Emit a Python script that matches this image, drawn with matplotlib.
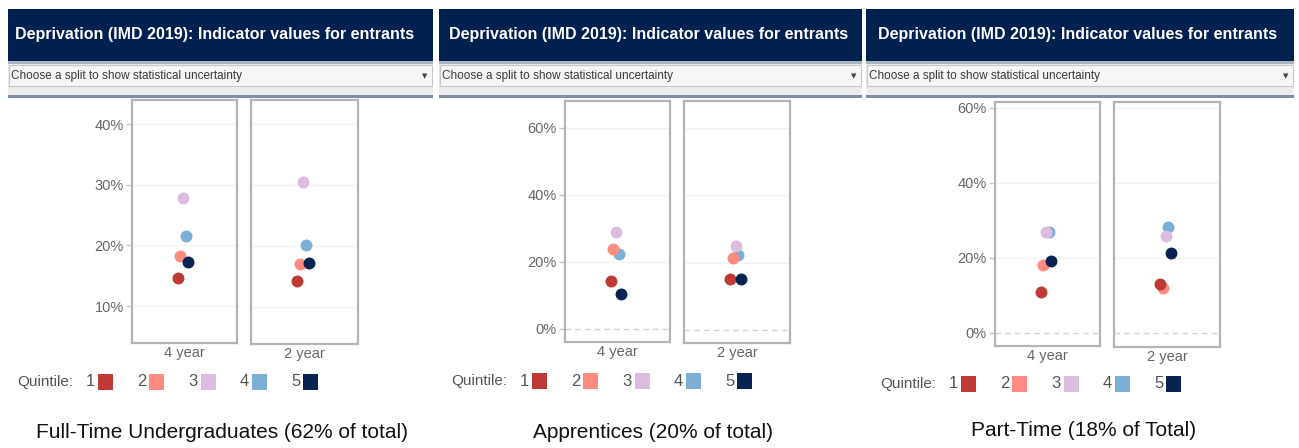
import matplotlib
matplotlib.use('Agg')
import matplotlib.pyplot as plt
from matplotlib.patches import Rectangle

plt.rcParams['font.family'] = ['Liberation Sans', 'DejaVu Sans']

# data (percent of entrants by IMD quintile)
groups = ['4 year', '2 year']
quintiles = ['1', '2', '3', '4', '5']
q_colors = ['#bf3a35', '#ff8a80', '#dcbde0', '#7bafd6', '#0a2452']

ft_4yr = [14.6, 18.3, 27.8, 21.6, 17.2]
ft_2yr = [14.2, 17.0, 30.6, 20.2, 17.2]
app_4yr = [14.2, 23.7, 29.0, 22.5, 10.5]
app_2yr = [15.2, 21.3, 25.0, 22.3, 15.2]
pt_4yr = [10.7, 17.9, 26.8, 26.8, 19.2]
pt_2yr = [13.2, 12.2, 25.8, 28.3, 21.3]

captions = ['Full-Time Undergraduates (62% of total)',
            'Apprentices (20% of total)',
            'Part-Time (18% of Total)']
title = 'Deprivation (IMD 2019): Indicator values for entrants'
dropdown = 'Choose a split to show statistical uncertainty'

panel_data = [(ft_4yr, ft_2yr), (app_4yr, app_2yr), (pt_4yr, pt_2yr)]
panel_ticks = [[10, 20, 30, 40], [0, 20, 40, 60], [0, 20, 40, 60]]
panel_ylim = [(3.9, 44.0), (-3.9, 68.0), (-3.6, 61.5)]

# layout in pixels
W, H = 1299, 448
headers = [(8, 433, 15), (439, 862, 449), (866, 1294, 878)]
boxes = [[(132, 100, 237, 343), (251, 100, 358, 344)],
         [(565, 101, 670, 342), (684, 101, 790, 343)],
         [(995, 102, 1100, 346), (1114, 102, 1220, 347)]]
legend_pos = [(17, 382), (451, 381), (880, 384)]
caption_pos = [(222, 433), (653, 433), (1084, 430)]

draw_order = [3, 2, 1, 0, 4]


def px_rect(x0, y0, x1, y1):
    return [x0 / W, 1 - y1 / H, (x1 - x0) / W, (y1 - y0) / H]


fig = plt.figure(figsize=(W / 100, H / 100), dpi=100)

ov = fig.add_axes([0, 0, 1, 1])
ov.set_xlim(0, W)
ov.set_ylim(H, 0)
ov.axis('off')

for p in range(3):
    x0, x1, tx = headers[p]
    w = x1 - x0
    # header band + dropdown
    ov.add_patch(Rectangle((x0, 9), w, 52, fc='#002050', ec='none'))
    ov.text(tx, 35, title, color='white', fontsize=11.5, fontweight='bold', va='center', ha='left')
    ov.add_patch(Rectangle((x0, 61), w, 3, fc='#aab4c2', ec='none'))
    ov.add_patch(Rectangle((x0, 64), w, 31, fc='#ebebeb', ec='none'))
    ov.add_patch(Rectangle((x0 + 1, 65), w - 2, 21, fc='#f6f6f6', ec='#c8c8c8', lw=0.8))
    ov.text(x0 + 3, 76, dropdown, color='#3a3a3a', fontsize=8.5, va='center', ha='left')
    ov.text(x1 - 8, 76, '\u25bc', color='#444444', fontsize=5, va='center', ha='center',
            family=['DejaVu Sans'])
    ov.add_patch(Rectangle((x0, 95), w, 3, fc='#7f8ea6', ec='none'))

    # legend
    lx, ly = legend_pos[p]
    ov.text(lx, ly, 'Quintile:', color='#555555', fontsize=11, va='center', ha='left')
    for i, q in enumerate(quintiles):
        sx = lx + 81 + i * 51.3
        ov.add_patch(Rectangle((sx, ly - 8), 15, 16, fc=q_colors[i], ec='none'))
        ov.text(sx - 3, ly, q, color='#555555', fontsize=12, va='center', ha='right')

    # caption
    cx, cy = caption_pos[p]
    ov.text(cx, cy, captions[p], color='#111111', fontsize=15, va='center', ha='center')

    # two small multiples
    for g in range(2):
        ax = fig.add_axes(px_rect(*boxes[p][g]))
        vals = panel_data[p][g]
        for i in draw_order:
            xpos = (i - 2) * 0.026 - 0.014
            ax.plot(xpos, vals[i], 'o', color=q_colors[i], markersize=8.6,
                    markeredgewidth=0, zorder=3)
        ax.set_xlim(-0.5, 0.5)
        ax.set_ylim(*panel_ylim[p])
        for t in panel_ticks[p]:
            if t == 0:
                ax.axhline(0, color='#d4d4d4', lw=1, ls=(0, (4, 3)), zorder=1)
            else:
                ax.axhline(t, color='#f3f3f3', lw=1, zorder=1)
        ax.set_yticks(panel_ticks[p])
        if g == 0:
            ax.set_yticklabels(['%d%%' % t for t in panel_ticks[p]])
            ax.tick_params(axis='y', length=4, width=1, color='#c8c8c8', pad=2,
                           labelsize=10.5, labelcolor='#666666')
        else:
            ax.tick_params(axis='y', length=0, labelleft=False)
        ax.set_xticks([0])
        ax.set_xticklabels([groups[g]])
        ax.tick_params(axis='x', length=0, pad=2, labelsize=10.5, labelcolor='#666666')
        for s in ax.spines.values():
            s.set_color('#b4b4b4')
            s.set_linewidth(1.6)

fig.savefig('out.png', dpi=100)
